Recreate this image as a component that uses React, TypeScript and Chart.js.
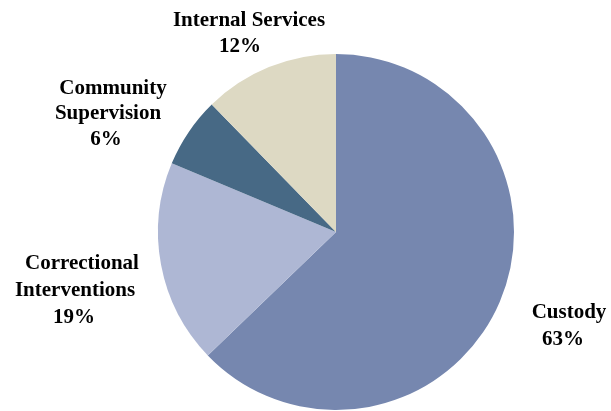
import React, { useEffect, useRef } from "react";
import { Chart, registerables } from "chart.js";

Chart.register(...registerables);

const categories = ["Custody", "Correctional Interventions", "Community Supervision", "Internal Services"];
const values = [62.8, 18.5, 6.4, 12.3];
const percentLabels = ["63%", "19%", "6%", "12%"];
const labelLines = [["Custody"], ["Correctional", "Interventions"], ["Community", "Supervision"], ["Internal Services"]];
const colors = ["#7687AF", "#AEB7D4", "#476985", "#DDD9C3"];

// label line layout: [x centers], [baselines]
const labelLayout = [
  { xs: [569, 563], ys: [318, 345] },
  { xs: [82, 75, 74], ys: [269, 296, 323] },
  { xs: [113, 108, 106], ys: [94, 119, 145] },
  { xs: [249, 240], ys: [26, 52] },
];

const labelPlugin = {
  id: "outerLabels",
  afterDraw(chart: any) {
    const ctx = chart.ctx;
    ctx.save();
    ctx.font = "bold 21px 'Liberation Serif', 'Times New Roman', serif";
    ctx.fillStyle = "#000000";
    ctx.textAlign = "center";
    ctx.textBaseline = "alphabetic";
    labelLines.forEach((lines, i) => {
      const all = [...lines, percentLabels[i]];
      const lay = labelLayout[i];
      all.forEach((t, j) => {
        ctx.fillText(t, lay.xs[j], lay.ys[j]);
      });
    });
    ctx.restore();
  },
};

export default function App() {
  const ref = useRef<HTMLCanvasElement>(null);
  useEffect(() => {
    if (!ref.current) return;
    const chart = new Chart(ref.current, {
      type: "pie",
      data: {
        labels: categories,
        datasets: [
          {
            data: values,
            backgroundColor: colors,
            borderWidth: 0,
          },
        ],
      },
      options: {
        animation: false,
        responsive: true,
        maintainAspectRatio: false,
        layout: { padding: { top: 54, bottom: 1, left: 158, right: 97 } },
        plugins: {
          legend: { display: false },
          tooltip: { enabled: false },
        },
      },
      plugins: [labelPlugin],
    });
    return () => chart.destroy();
  }, []);
  return (
    <div style={{ position: "absolute", left: 0, top: 0, width: 611, height: 411, background: "#fff" }}>
      <canvas ref={ref} />
    </div>
  );
}
